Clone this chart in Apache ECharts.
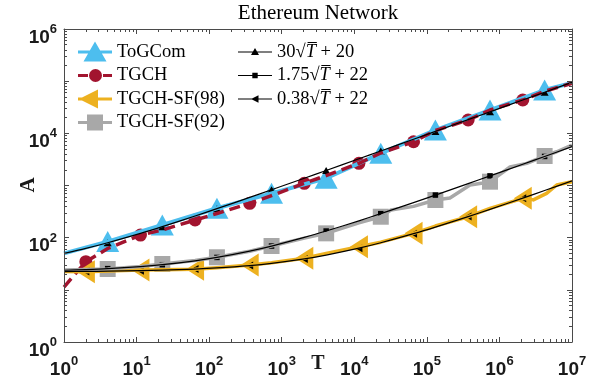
<!DOCTYPE html>
<html>
<head>
<meta charset="utf-8">
<script src="https://cdn.jsdelivr.net/npm/echarts@6/dist/echarts.min.js"></script>
<style>html,body{margin:0;padding:0;background:#fff}#c{width:598px;height:386px}</style>
</head>
<body>
<div id="c"></div>
<script>
// ---------------- data ----------------
const titleText = 'Ethereum Network';
const xName = 'T';
const yName = 'A';

// marker abscissae
const markOdd  = [2, 11.31, 64, 362, 2048, 11585, 65536, 370727, 2097152];
const markEven = [4, 22.63, 128, 724, 4096, 23170, 131072, 741455, 4194304];

// ToGCom
const togcomT = [1, 4, 22.63, 128, 724, 4096, 23170, 131072, 741455, 4194304, 10000000];
const togcomA = [50, 84, 175, 366, 708, 1374, 4140, 11580, 28000, 67600, 93000];

// TGCH
const tgchT = [1, 2, 4, 11.31, 22.63, 64, 128, 362, 724, 2048, 4096, 11585, 23170, 65536, 131072, 370727, 741455, 2097152, 4194304, 10000000];
const tgchA = [11.3, 34.6, 62, 112, 140, 218, 290, 456, 640, 1100, 1550, 2660, 4200, 6900, 11300, 18000, 28000, 43500, 64000, 91000];

// TGCH-SF(98)
const sf98T = [1, 2, 4, 11.31, 22.63, 64, 128, 362, 724, 2048, 4096, 11585, 23170, 65536, 131072, 370727, 741455, 2097152, 2930000, 4470000, 6150000, 10000000];
const sf98A = [22.4, 22.3, 23, 24.0, 24.3, 24.8, 26.5, 29.9, 33, 40.2, 50, 67.1, 82, 121, 167, 252, 365, 568, 530, 708, 1022, 1183];

// TGCH-SF(92)
const sf92T = [1, 2, 4, 11.31, 22.63, 64, 128, 362, 724, 2048, 4096, 11585, 23170, 32000, 65536, 131072, 208000, 393000, 594000, 741455, 1400000, 2380000, 4194304, 6150000, 10000000];
const sf92A = [24, 24.5, 25.1, 28, 31.3, 36.5, 42.1, 55, 69.2, 98, 121, 192, 252, 339, 398, 527, 575, 1021, 1116, 1183, 2262, 2660, 3675, 4440, 5970];

// fitted curves (values as drawn)
const fitT  = [1, 2, 4, 11.31, 22.63, 64, 128, 362, 724, 2048, 4096, 11585, 23170, 65536, 131072, 370727, 741455, 2097152, 4194304, 10000000];
const fit1A = [50, 62.4, 80, 120.9, 162.7, 260, 359.4, 590.8, 827.3, 1377.6, 1940, 3249, 4587, 7700, 10881, 18287, 25853, 43465, 61460, 94888];
const fit2A = [23.75, 24.47, 25.5, 27.89, 30.32, 36, 41.8, 55.3, 69.09, 101.19, 134, 210.3, 288.4, 470, 655.4, 1087.6, 1528.9, 2556.4, 3606, 5556];
const fit3A = [22.38, 22.54, 22.76, 23.28, 23.81, 25.04, 26.3, 29.23, 32.23, 39.19, 46.32, 62.89, 79.84, 119.28, 159.57, 253.4, 349.2, 572.3, 800.2, 1223.7];

const seriesNames = ['ToGCom', 'TGCH', 'TGCH-SF(98)', 'TGCH-SF(92)'];
const fitNames = ['fit1', 'fit2', 'fit3'];
const fitLabels = {fit1: ['30', '20'], fit2: ['1.75', '22'], fit3: ['0.38', '22']};

const xDecades = [1, 10, 100, 1000, 10000, 100000, 1000000, 10000000];
const yDecades = [1, 10, 100, 1000, 10000, 100000, 1000000];
const yLabelVals = [1, 100, 10000, 1000000];

// ---------------- helpers ----------------
function pairs(T, A) { return T.map((t, i) => [t, A[i]]); }
function pick(T, A, marks) {
  const out = [];
  marks.forEach(m => {
    const i = T.findIndex(t => Math.abs(t - m) / m < 1e-3);
    if (i >= 0) out.push([T[i], A[i]]);
  });
  return out;
}
function minors(n) {
  const out = [];
  for (let k = 0; k < n; k++) for (let m = 2; m <= 9; m++) out.push(m * Math.pow(10, k));
  return out;
}
const minorX = minors(7);
const minorY = minors(6);

const C_CYAN = '#4DBEEE', C_RED = '#A2142F', C_ORANGE = '#EDB120', C_GRAY = '#A8A8A8', C_AX = '#4a4a4a';

const labelRich = {
  b: {fontFamily: 'Liberation Sans', fontWeight: 'bold', fontSize: 19, lineHeight: 20, padding: [9, 0, 0, 0], verticalAlign: 'top', color: '#1a1a1a'},
  s: {fontFamily: 'Liberation Sans', fontWeight: 'bold', fontSize: 13, lineHeight: 13, padding: [4, 0, 0, 0], verticalAlign: 'top', color: '#1a1a1a'}
};
const expFmt = v => '{b|10}{s|' + Math.round(Math.log10(v)) + '}';

function axis(kind, grid, pos, opts) {
  return {
    gridIndex: grid, type: 'log', logBase: 10, position: pos,
    min: 1, max: kind === 'x' ? 1e7 : 1e6,
    splitLine: {show: false}, minorSplitLine: {show: false},
    axisLine: {show: opts.line, lineStyle: {color: C_AX, width: 1}},
    axisTick: {show: true, inside: true, length: opts.len, customValues: opts.ticks, lineStyle: {color: C_AX, width: 1}},
    axisLabel: opts.labels ? {show: true, customValues: opts.labels, formatter: expFmt, rich: labelRich, margin: kind === 'x' ? 9 : 7} : {show: false},
    z: 10
  };
}

const xAxis = [
  axis('x', 0, 'bottom', {line: true, len: 5, ticks: xDecades, labels: xDecades}),
  axis('x', 0, 'top', {line: true, len: 5, ticks: xDecades}),
  axis('x', 1, 'bottom', {line: false, len: 3, ticks: minorX}),
  axis('x', 1, 'top', {line: false, len: 3, ticks: minorX})
];
const yAxis = [
  axis('y', 0, 'left', {line: true, len: 5, ticks: yDecades, labels: yLabelVals}),
  axis('y', 0, 'right', {line: true, len: 5, ticks: yDecades}),
  axis('y', 1, 'left', {line: false, len: 3, ticks: minorY}),
  axis('y', 1, 'right', {line: false, len: 3, ticks: minorY})
];

function lineSeries(name, data, color, width, type, extra) {
  return Object.assign({
    name, type: 'line', data, xAxisIndex: 0, yAxisIndex: 0,
    symbol: 'none', color, lineStyle: {color, width, type: type || 'solid', cap: 'butt', join: 'round'},
    itemStyle: {color, borderWidth: 0}, silent: true, clip: true
  }, extra || {});
}
function markSeries(name, data, color, symbol, size, rotate) {
  return {
    name, type: 'scatter', data, xAxisIndex: 0, yAxisIndex: 0,
    symbol, symbolSize: size, symbolRotate: rotate || 0,
    itemStyle: {color, borderWidth: 0, opacity: 1}, silent: true, clip: false
  };
}

const series = [
  lineSeries(seriesNames[0], pairs(togcomT, togcomA), C_CYAN, 4),
  markSeries('m0', pick(togcomT, togcomA, markEven), C_CYAN, 'triangle', [23, 21]),
  lineSeries(seriesNames[1], pairs(tgchT, tgchA), C_RED, 3.5, [11, 6]),
  markSeries('m1', pick(tgchT, tgchA, markOdd), C_RED, 'circle', 13),
  lineSeries(seriesNames[2], pairs(sf98T, sf98A), C_ORANGE, 3.5),
  markSeries('m2', pick(sf98T, sf98A, markOdd), C_ORANGE, 'triangle', [23, 18], 90),
  lineSeries(seriesNames[3], pairs(sf92T, sf92A), C_GRAY, 3.5),
  markSeries('m3', pick(sf92T, sf92A, markEven), C_GRAY, 'rect', 16),
  lineSeries(fitNames[0], pairs(fitT, fit1A), '#000', 1.2, 'solid', {smooth: 0.3}),
  markSeries('f0', pick(fitT, fit1A, markEven), '#000', 'triangle', [8, 7]),
  lineSeries(fitNames[1], pairs(fitT, fit2A), '#000', 1.2, 'solid', {smooth: 0.3}),
  markSeries('f1', pick(fitT, fit2A, markEven), '#000', 'rect', 5.5),
  lineSeries(fitNames[2], pairs(fitT, fit3A), '#000', 1.2, 'solid', {smooth: 0.3}),
  markSeries('f2', pick(fitT, fit3A, markOdd), '#000', 'triangle', [8, 7], 90)
];

// legend icons (line + marker); every path spans the full 34x22 box
const FRAME = 'M0,0L0,0 M34,22L34,22 ';
const icons = {
  'ToGCom': 'path://' + FRAME + 'M0,9.5H34V12.5H0Z M17,0.5L28.5,20.5L5.5,20.5Z',
  'TGCH': 'path://' + FRAME + 'M0,9.5H10V12.5H0Z M25,9.5H34V12.5H25Z M11,11A6.5,6.5 0 1,0 24,11A6.5,6.5 0 1,0 11,11Z',
  'TGCH-SF(98)': 'path://' + FRAME + 'M0,9.5H34V12.5H0Z M1,11L20,1.5L20,20.5Z',
  'TGCH-SF(92)': 'path://' + FRAME + 'M0,9.5H34V12.5H0Z M9,3H25V19H9Z',
  'fit1': 'path://' + FRAME + 'M0,10.4H34V11.6H0Z M17,7L21,14L13,14Z',
  'fit2': 'path://' + FRAME + 'M0,10.4H34V11.6H0Z M14.3,8.3H19.7V13.7H14.3Z',
  'fit3': 'path://' + FRAME + 'M0,10.4H34V11.6H0Z M13,11L20.5,7.3L20.5,14.7Z'
};
const iconColor = {'ToGCom': C_CYAN, 'TGCH': C_RED, 'TGCH-SF(98)': C_ORANGE, 'TGCH-SF(92)': C_GRAY, fit1: '#000', fit2: '#000', fit3: '#000'};
function legendData(names) {
  return names.map(n => ({name: n, icon: icons[n], itemStyle: {color: iconColor[n], borderWidth: 0}}));
}
const legendCommon = {
  orient: 'vertical', top: 41, itemWidth: 34, itemHeight: 22, itemGap: 1.5,
  selectedMode: false, padding: 0, itemStyle: {borderWidth: 0}
};

const option = {
  animation: false,
  backgroundColor: '#fff',
  grid: [
    {left: 64, right: 26, top: 29, bottom: 44, containLabel: false},
    {left: 64, right: 26, top: 29, bottom: 44, containLabel: false}
  ],
  xAxis, yAxis,
  legend: [
    Object.assign({}, legendCommon, {
      left: 78, data: legendData(seriesNames),
      textStyle: {fontFamily: 'Liberation Serif', fontSize: 18.5, color: '#000'}
    }),
    Object.assign({}, legendCommon, {
      left: 238, data: legendData(fitNames),
      formatter: n => '{r|' + fitLabels[n][0] + '\u221A}{i|T\u0305}{r| + ' + fitLabels[n][1] + '}',
      textStyle: {
        fontFamily: 'Liberation Serif', fontSize: 18.5, color: '#000',
        rich: {
          r: {fontFamily: 'Liberation Serif', fontSize: 18.5, color: '#000'},
          i: {fontFamily: 'Liberation Serif', fontStyle: 'italic', fontSize: 18.5, color: '#000'}
        }
      }
    })
  ],
  graphic: [
    {type: 'text', x: 318, y: 13, silent: true,
     style: {text: titleText, fontFamily: 'Liberation Serif', fontSize: 21, fill: '#000', align: 'center', verticalAlign: 'middle'}},
    {type: 'text', x: 28.5, y: 185, rotation: Math.PI / 2, silent: true,
     style: {text: yName, fontFamily: 'Liberation Serif', fontWeight: 'bold', fontSize: 21, fill: '#1a1a1a', align: 'center', verticalAlign: 'middle'}},
    {type: 'text', x: 318, y: 364, silent: true,
     style: {text: xName, fontFamily: 'Liberation Serif', fontWeight: 'bold', fontSize: 20, fill: '#1a1a1a', align: 'center', verticalAlign: 'middle'}}
  ],
  series
};

const chart = echarts.init(document.getElementById('c'), null, {renderer: 'canvas'});
chart.setOption(option);
</script>
</body>
</html>
